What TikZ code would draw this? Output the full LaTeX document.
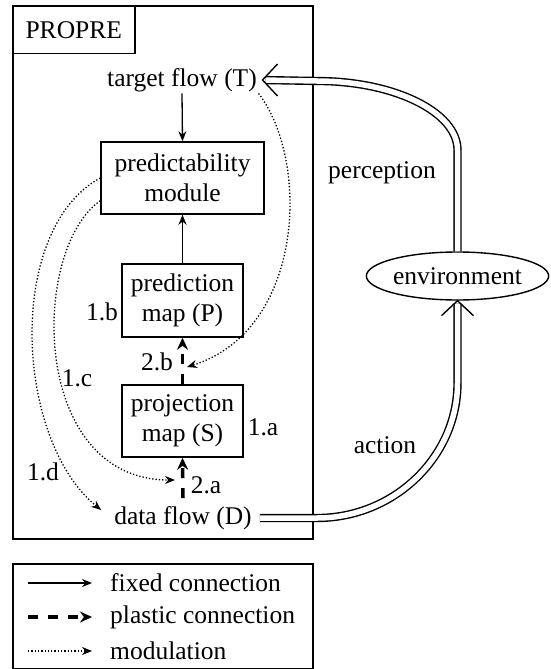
\documentclass[tikz,border=0pt]{standalone}
\usepackage{fontspec}
\setmainfont{Liberation Serif}
\usetikzlibrary{arrows.meta,shapes.geometric,calc}
\tikzset{
  every node/.style={font=\fontsize{25.5}{30}\selectfont},
  box/.style={draw, line width=1.5pt, align=center, inner sep=0pt, minimum width=121pt, minimum height=72pt},
  lbl/.style={inner sep=1.5pt},
  fixedc/.style={line width=1.3pt, -{Stealth[length=10pt,width=8pt]}},
  plastic/.style={line width=3.5pt, dash pattern=on 10pt off 10pt, -{Stealth[length=12pt,width=11pt]}},
  modul/.style={line width=1.3pt, dotted, -{Stealth[length=10pt,width=8pt]}},
  dbl/.style={double, double distance=5.5pt, line width=1.4pt},
  barb/.style={line width=1.4pt, line join=miter},
}
\begin{document}
\begin{tikzpicture}[x=1pt,y=-1pt]
\useasboundingbox (0,0) rectangle (551,669);
% outer PROPRE frame
\node[draw, line width=1.8pt, minimum width=300pt, minimum height=533pt, anchor=north west, inner sep=0pt] (frame) at (12,5) {};
\node[draw, line width=1.5pt, minimum width=122pt, minimum height=48pt, anchor=north west, inner sep=0pt] (propre) at (12,5) {PROPRE};
% main nodes
\node[lbl] (T) at (182,80) {target flow (T)};
\node[box, minimum width=163pt] (pm) at (182.5,178) {predictability\\module};
\node[box, minimum height=73pt] (pred) at (182.5,300.5) {prediction\\map (P)};
\node[box] (proj) at (182.5,421) {projection\\map (S)};
\node[inner sep=8pt] (D) at (183,518) {data flow (D)};
\node[draw, ellipse, line width=1.4pt, inner sep=0pt, minimum width=179pt, minimum height=48pt] (env) at (457.5,276) {environment};
% labels
\node (l1b) at (102,312) {1.b};
\node (l2b) at (157,362) {2.b};
\node (l1a) at (263,427) {1.a};
\node (l1c) at (77,378) {1.c};
\node (l1d) at (43,472) {1.d};
\node (l2a) at (206,485) {2.a};
\node (lper) at (382,173) {perception};
\node (lact) at (385,445) {action};
% coordinates
\coordinate (m2b) at (187,367);
\coordinate (m2a) at (175,480);
\coordinate (pmc) at ([yshift=14pt]pm.south west);
\coordinate (dend) at ([xshift=-5pt,yshift=8pt]D.west);
\coordinate (pv) at (457.5,150);
\coordinate (ph) at (317,81);
\coordinate (av) at (457.5,383);
\coordinate (ah) at (317,518);
\coordinate (tipT) at ([xshift=4pt]T.east);
\coordinate (tipE) at (env.south);
% fixed connections
\draw[fixedc] (T.south) -- (pm.north);
\draw[fixedc] (pred.north) -- (pm.south);
% plastic connections
\draw[plastic] (proj.north) -- (pred.south);
\draw[plastic] (D.north) -- (proj.south);
% modulations
\draw[modul] (T.south east) .. controls (310,160) and (305,330) .. (m2b);
\draw[modul] (pmc) .. controls (30,250) and (30,480) .. (m2a);
\draw[modul] (pm.west) .. controls (5,230) and (15,440) .. (dend);
% perception / action
\draw[dbl, shorten >=3pt] (env.north) -- (pv) .. controls (457.5,112) and (394,81) .. (ph) -- (tipT);
\draw[barb] ([shift={(15pt,16pt)}]tipT) -- (tipT) -- ([shift={(15pt,-16pt)}]tipT);
\draw[dbl, shorten >=3pt] (D.east) -- (ah) .. controls (394,518) and (457.5,457) .. (av) -- (tipE);
\draw[barb] ([shift={(-16pt,-15pt)}]tipE) -- (tipE) -- ([shift={(16pt,-15pt)}]tipE);
% legend
\node[draw, line width=1.5pt, minimum width=300pt, minimum height=105pt, anchor=north west, inner sep=0pt] (legend) at (12,563) {};
\coordinate (a1) at (28,583); \coordinate (b1) at (92,583);
\coordinate (a2) at (28,617); \coordinate (b2) at (92,617);
\coordinate (a3) at (28,651); \coordinate (b3) at (92,651);
\draw[fixedc] (a1) -- (b1);
\draw[plastic] (a2) -- (b2);
\draw[modul] (a3) -- (b3);
\node[anchor=west, inner sep=0pt] (t1) at (110,583) {fixed connection};
\node[anchor=west, inner sep=0pt] (t2) at (110,617) {plastic connection};
\node[anchor=west, inner sep=0pt] (t3) at (110,651) {modulation};
\end{tikzpicture}
\end{document}
